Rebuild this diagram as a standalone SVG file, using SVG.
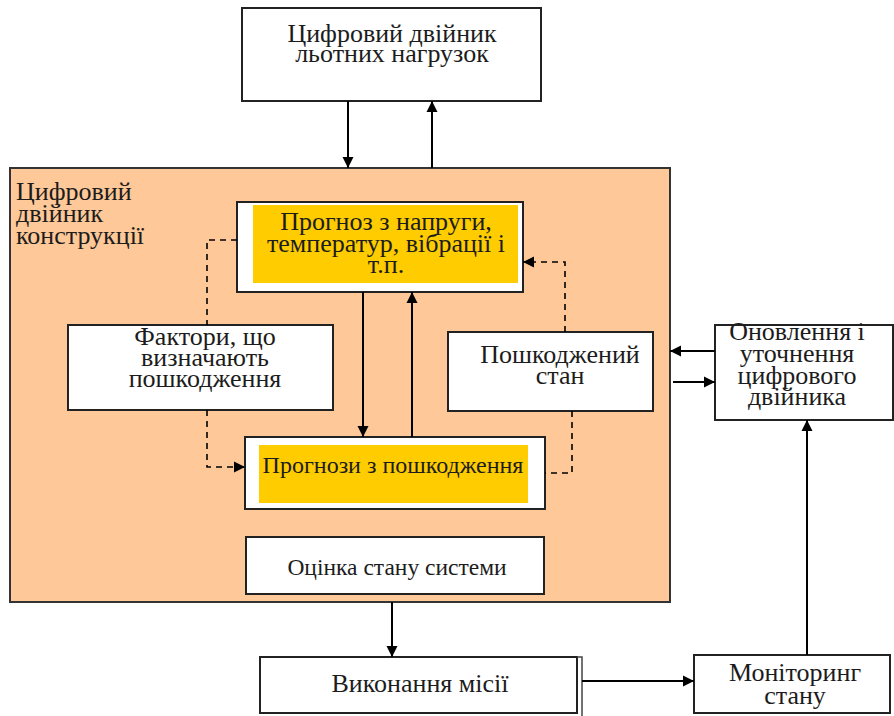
<svg xmlns="http://www.w3.org/2000/svg" width="894" height="716" viewBox="0 0 894 716">
<defs>
<marker id="ah" markerUnits="userSpaceOnUse" markerWidth="12" markerHeight="12" refX="11" refY="6" orient="auto">
<path d="M0,0.5 L11,6 L0,11.5 z" fill="#000"/>
</marker>
<style>
.box{fill:#fff;stroke:#222;stroke-width:2}
.yel{fill:#FFCC00;stroke:none}
.t{font-family:"Liberation Serif","Times New Roman","DejaVu Serif",serif;font-size:26px;fill:#1c1c1c;text-anchor:middle}
.lbl{font-family:"Liberation Serif","Times New Roman","DejaVu Serif",serif;font-size:26px;fill:#1c1c1c}
.c{fill:none;stroke:#000;stroke-width:2}
.d{fill:none;stroke:#000;stroke-width:1.6;stroke-dasharray:6 5}
</style>
</defs>
<rect width="894" height="716" fill="#fff"/>

<g id="twin-loads">
<rect class="box" x="242" y="8" width="299" height="93"/>
<text class="t" x="392" y="42">Цифровий двійник</text>
<text class="t" x="392" y="62">льотних нагрузок</text>
</g>

<g id="twin-structure">
<rect x="10" y="168" width="660" height="434" fill="#FFC898" stroke="#333" stroke-width="2"/>
<text class="lbl" x="16" y="200">Цифровий</text>
<text class="lbl" x="16" y="222">двійник</text>
<text class="lbl" x="16" y="244">конструкції</text>
</g>

<g id="forecast-stress">
<rect class="box" x="237" y="202" width="286" height="90"/>
<rect class="yel" x="253" y="205" width="265" height="78"/>
<text class="t" x="386" y="230">Прогноз з напруги,</text>
<text class="t" x="386" y="252">температур, вібрації і</text>
<text class="t" x="386" y="273">т.п.</text>
</g>

<g id="factors">
<rect class="box" x="68" y="325" width="265" height="85"/>
<text class="t" x="205" y="345">Фактори, що</text>
<text class="t" x="205" y="366">визначають</text>
<text class="t" x="205" y="387">пошкодження</text>
</g>

<g id="damaged-state">
<rect class="box" x="448" y="332" width="205" height="79"/>
<text class="t" x="560" y="363">Пошкоджений</text>
<text class="t" x="560" y="384">стан</text>
</g>

<g id="forecast-damage">
<rect class="box" x="245" y="437" width="300" height="72"/>
<rect class="yel" x="259" y="445" width="269" height="58"/>
<text class="t" x="393" y="473" style="font-size:24px">Прогнози з пошкодження</text>
</g>

<g id="system-assessment">
<rect class="box" x="246" y="537" width="298" height="57"/>
<text class="t" x="397" y="575" style="font-size:23.5px">Оцінка стану системи</text>
</g>

<g id="mission">
<rect class="box" x="260" y="657" width="317" height="56"/>
<path d="M577,657 H582 V716" fill="none" stroke="#444" stroke-width="1.5"/>
<text class="t" x="420" y="692">Виконання місії</text>
</g>

<g id="monitoring">
<rect class="box" x="694" y="655" width="196" height="58"/>
<text class="t" x="795" y="681">Моніторинг</text>
<text class="t" x="795" y="704">стану</text>
</g>

<g id="update">
<rect class="box" x="715" y="325" width="178" height="95"/>
<text class="t" x="797" y="340">Оновлення і</text>
<text class="t" x="797" y="362">уточнення</text>
<text class="t" x="797" y="384">цифрового</text>
<text class="t" x="797" y="405">двійника</text>
</g>

<g id="connectors">
<line class="c" x1="348" y1="101" x2="348" y2="168" marker-end="url(#ah)"/>
<line class="c" x1="432" y1="168" x2="432" y2="101" marker-end="url(#ah)"/>
<line class="c" x1="363" y1="292" x2="363" y2="437" marker-end="url(#ah)"/>
<line class="c" x1="412" y1="437" x2="412" y2="292" marker-end="url(#ah)"/>
<path class="d" d="M237,240 H207 V325"/>
<path class="d" d="M207,410 V467 H245" marker-end="url(#ah)"/>
<path class="d" d="M565,332 V262 H523" marker-end="url(#ah)"/>
<path class="d" d="M572,411 V473 H545"/>
<line class="c" x1="392" y1="602" x2="392" y2="657" marker-end="url(#ah)"/>
<line class="c" x1="582" y1="681" x2="694" y2="681" marker-end="url(#ah)"/>
<line class="c" x1="807" y1="655" x2="807" y2="420" marker-end="url(#ah)"/>
<line class="c" x1="715" y1="351" x2="670" y2="351" marker-end="url(#ah)"/>
<line class="c" x1="673" y1="382" x2="715" y2="382" marker-end="url(#ah)"/>
</g>
</svg>
